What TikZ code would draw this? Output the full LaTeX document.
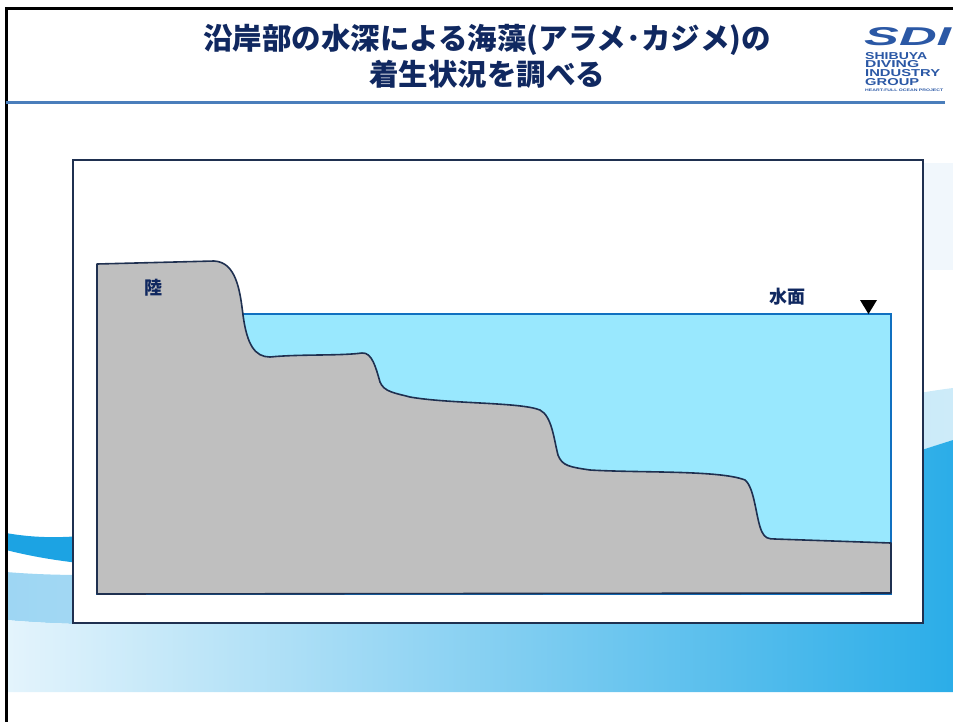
\documentclass[tikz,border=0pt]{standalone}
\usepackage{fontspec}
\setmainfont{Liberation Sans}
\newfontfamily\jpfont{Noto Sans CJK JP}
\usetikzlibrary{positioning}

\definecolor{navy}{RGB}{16,40,96}
\definecolor{framecol}{RGB}{31,48,80}
\definecolor{rulecol}{RGB}{74,126,187}
\definecolor{logoblue}{RGB}{43,88,165}
\definecolor{seacol}{RGB}{153,232,254}
\definecolor{seaedge}{RGB}{16,112,192}
\definecolor{landcol}{RGB}{191,191,191}
\definecolor{wavedark}{RGB}{28,163,227}
\definecolor{wavecyan}{RGB}{43,173,232}
\definecolor{wavepale}{RGB}{228,244,252}
\definecolor{wavelight}{RGB}{158,214,243}
\definecolor{wavemist}{RGB}{205,235,249}
\definecolor{haze}{RGB}{241,247,252}

\tikzset{
  jptext/.style={font=\jpfont\bfseries, text=navy, inner sep=0pt},
  logotext/.style={font=\bfseries, text=logoblue, inner sep=0pt, anchor=west},
  border/.style={line width=3pt, line cap=rect},
}

\begin{document}
\begin{tikzpicture}[x=1pt, y=-1pt]
  \useasboundingbox (0,0) rectangle (953,721);

  % ----- Background swooshes -----
  \fill[wavedark] (6,533) .. controls (40,539) and (70,538) .. (110,533)
    -- (110,566) .. controls (60,562) and (30,556) .. (6,550) -- cycle;
  \shade[left color=wavelight, right color=wavemist]
    (6,572) .. controls (350,600) and (700,420) .. (953,388)
    -- (953,440) .. controls (700,520) and (350,650) .. (6,620) -- cycle;
  \shade[left color=wavepale, right color=wavecyan]
    (6,620) .. controls (350,650) and (700,520) .. (953,440)
    -- (953,692) -- (6,692) -- cycle;
  \fill[haze] (924,163) rectangle (953,270);

  % ----- Slide frame and header -----
  \draw[border] (953,8) -- (6,8) -- (6,721);
  \draw[rulecol, line width=3pt] (6,102) -- (945,102);

  \node[jptext, align=center, font=\jpfont\bfseries\fontsize{29.5pt}{36pt}\selectfont]
    (title) at (487,56) {沿岸部の水深による海藻(アラメ･カジメ)の\\着生状況を調べる};

  % Logo
  \node[logotext] (sdi) at (864,36.5) {\resizebox{87pt}{18pt}{\itshape SDI}};
  \node[logotext] (shibuya) at (865,56) {\resizebox{62pt}{7pt}{SHIBUYA}};
  \node[logotext] (diving) at (865,64.5) {\resizebox{54pt}{7pt}{DIVING}};
  \node[logotext] (industry) at (865,73) {\resizebox{75pt}{7pt}{INDUSTRY}};
  \node[logotext] (group) at (865,82.5) {\resizebox{54pt}{7pt}{GROUP}};
  \node[logotext] (project) at (865,90.5) {\resizebox{78pt}{2.5pt}{HEART-FULL OCEAN PROJECT}};

  % ----- Cross section -----
  \draw[framecol, line width=2pt, fill=white] (73,160) rectangle (923,623);

  % water
  \draw[seaedge, line width=1.6pt, fill=seacol] (97,314) rectangle (891,594);

  % seabed profile
  \draw[framecol, line width=1.6pt, fill=landcol, line join=round]
    (97,594) -- (97,264) -- (214,261)
    .. controls (236,262) and (240,290) .. (243,315)
    .. controls (247,345) and (255,357) .. (270,357)
    .. controls (300,354) and (340,356) .. (362,353)
    .. controls (372,352) and (376,368) .. (380,382)
    .. controls (384,392) and (395,393) .. (410,397)
    .. controls (450,404) and (520,402) .. (540,410)
    .. controls (552,416) and (554,440) .. (558,455)
    .. controls (562,466) and (570,467) .. (590,470)
    .. controls (640,473) and (720,470) .. (745,480)
    .. controls (755,488) and (756,520) .. (762,532)
    .. controls (765,538) and (768,539) .. (775,539)
    -- (891,543) -- (891,593) -- cycle;

  % labels
  \node[jptext, font=\jpfont\bfseries\fontsize{18pt}{20pt}\selectfont] (land) at (153,288) {陸};
  \node[jptext, font=\jpfont\bfseries\fontsize{18pt}{20pt}\selectfont] (surface) at (787,297) {水面};
  \fill[black] (860,300) -- (877,300) -- (868.5,314) -- cycle;

\end{tikzpicture}
\end{document}
